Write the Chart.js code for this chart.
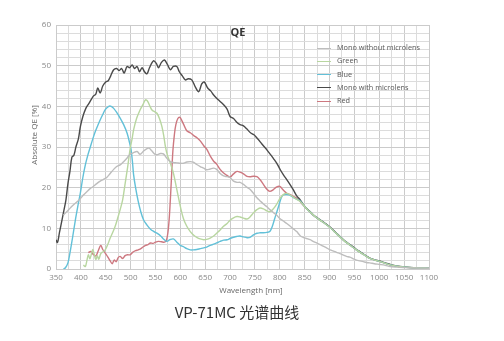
<!DOCTYPE html>
<html>
<head>
<meta charset="utf-8">
<script src="https://cdn.jsdelivr.net/npm/chart.js@4.4.1/dist/chart.umd.min.js"></script>
<style>
  body { margin: 0; background: #fff; }
  #wrap { position: relative; width: 504px; height: 341px; }
  #legend { position: absolute; left: 317px; top: 42px; font: 7.3px "Open Sans", sans-serif; color: #555; }
  #legend .row { height: 13.3px; line-height: 11px; white-space: nowrap; }
  #legend .swatch { display: inline-block; width: 14px; height: 0; border-top: 1.3px solid; vertical-align: middle; margin-right: 6px; }
  #caption { position: absolute; left: 0; width: 474px; top: 301px; text-align: center; font: 15px "Noto Sans CJK SC", sans-serif; color: #333; }
</style>
</head>
<body>
<div id="wrap">
  <canvas id="qeChart" width="504" height="341"></canvas>
  <div id="legend"></div>
  <div id="caption">VP-71MC 光谱曲线</div>
</div>
<script>
// Mono without microlens
const monoNoLensNm = [365,369,375,380,387,393,399,405,412,418,425,432,439,445,452,459,466,472,479,486,493,499,506,513,519,526,533,537,543,548,553,560,566,573,580,586,593,600,606,613,620,626,633,640,647,653,660,667,673,680,687,694,700,707,714,720,727,734,740,747,754,760,767,774,780,787,794,800,807,814,821,828,834,841,847,854,861,867,874,881,887,894,901,908,914,921,928,934,941,948,954,961,968,974,981,990,1002,1012,1022,1035,1050,1070,1100];
const monoNoLensQE = [13.3,13.8,14.5,15.2,16,16.6,17.3,18.2,19,19.7,20.3,21,21.6,22,22.5,23.5,24.5,25.2,25.6,26.4,27.3,28.2,28.6,28.9,28.2,29,29.6,29.7,29,28.3,28.1,28.4,28.3,27.2,26.4,26.2,26.1,26,26,26.3,26.4,26.3,25.7,25.2,24.8,24.4,24.6,24.8,24.5,23.5,22.9,22.7,22.5,21.6,21.3,21.3,20.8,20.1,19.6,18.6,17.5,16.8,16,15.3,14.6,13.9,13.2,12.4,11.8,11.2,10.5,9.8,9.2,8.2,7.8,7.5,7.2,6.8,6.4,6,5.6,5.2,4.7,4.4,4.1,3.8,3.4,3.1,2.9,2.5,2.2,2,1.8,1.6,1.5,1.3,1.1,0.9,0.6,0.45,0.35,0.25,0.2];

// Green
const greenNm = [405,409,412,415,418,421,424,427,430,433,436,440,444,449,454,459,464,469,474,479,484,489,494,499,503,506,512,519,525,530,534,539,543,548,553,558,563,567,570,574,580,586,593,600,606,613,620,627,633,640,647,653,660,667,673,680,687,694,700,707,714,720,727,734,740,747,754,760,767,774,780,787,794,800,807,814,821,828,834,841,847,854,861,874,887,901,914,928,941,954,968,981,1002,1022,1042,1070,1100];
const greenQE = [1,0.6,2,3.5,2.5,3.6,4.8,3.5,2.3,3.3,2.4,3.8,4.2,4.7,6,7.6,9,10.5,12.5,14.6,17,21,25,29.5,32,34.2,37,39.1,40.5,41.6,41.3,40,39.1,38.7,38.3,37,35,32.5,30.1,28,26,23.6,19.5,15.4,12.5,10.5,9.2,8.3,7.8,7.4,7.2,7.3,7.6,8.1,8.8,9.6,10.5,11.2,12,12.6,12.9,12.8,12.5,12.3,12.8,13.8,14.6,15,14.8,14.3,14.1,14.8,16,17.3,18.3,18.6,18.2,17.6,17.1,16.6,15.8,14.8,14,12.6,11.5,10.2,8.7,7.1,5.9,4.7,3.6,2.6,1.8,1.0,0.55,0.3,0.2];

// Blue
const blueNm = [365,369,374,378,383,389,394,399,404,409,414,419,424,429,434,439,444,449,456,461,466,472,479,486,493,498,501,504,506,510,515,520,526,533,540,547,553,560,566,573,579,586,593,600,606,613,620,626,633,640,647,653,660,667,673,680,687,694,700,707,713,720,727,734,740,747,754,760,767,774,780,785,790,794,799,803,807,814,821,827,834,841,847,854,861,874,887,901,914,928,941,954,968,981,1002,1022,1042,1070,1100];
const blueQE = [0,0.3,1.5,3.9,7.5,12.1,15.5,18.7,22.5,25.6,28,30,32,33.8,35.3,36.7,38,39.2,40,40,39.5,38.5,37.1,35.5,33.4,31,29.3,26,23.2,20,16.8,14.3,12.1,10.8,9.8,9.2,8.8,8.2,7.4,6.8,7.2,7.4,6.6,5.8,5.5,5,4.7,4.7,4.8,5,5.2,5.4,5.8,6.1,6.4,6.8,7.1,7.2,7.5,7.8,8,8.1,7.9,7.7,7.8,8.4,8.8,8.9,8.9,9,9.2,10.5,12.5,14,16,17.5,18.2,18.3,18.1,17.6,17.2,16.7,15.8,14.8,14,12.6,11.5,10.2,8.7,7.1,5.9,4.7,3.6,2.6,1.8,1.0,0.55,0.3,0.2];

// Mono with microlens
const monoLensNm = [350,353,357,362,366,370,374,378,382,386,390,395,399,404,410,415,420,425,430,434,439,444,450,455,460,466,472,477,482,487,493,498,503,508,513,518,523,528,533,538,546,552,556,562,568,574,580,586,593,598,604,610,616,623,630,637,643,648,655,661,667,673,680,687,694,700,707,714,720,727,734,741,748,754,761,767,774,781,787,794,801,807,814,821,827,834,841,847,854,861,867,874,881,887,894,901,908,914,921,928,934,941,948,954,961,968,974,981,990,1002,1012,1022,1032,1042,1055,1070,1085,1100];
const monoLensQE = [7.2,6.5,9,12,14.5,17,21,24,27.5,28,30,32,35,37.5,39.5,40.5,41.5,42.5,43,44.5,43.3,45,46,46.3,47.5,49,49.3,48.8,49.3,48.2,49.8,49.5,50.2,49.3,49.8,48.5,49.5,48.5,48,49.5,51.2,50.5,49.5,50.8,51.4,50.3,49,49.8,49.8,48.5,47.5,46.5,46.8,46.5,44.8,43.6,45.5,46,44.5,43.8,42.8,42,41.2,40.4,39.3,37.5,37,36,35.5,35.2,34.4,33.5,33,32.2,31.2,30.3,29.3,28.2,27.2,26,24.4,23.2,22,20.7,19.5,18,17,15.9,14.9,14.1,13.3,12.7,12.1,11.6,11,10.3,9.5,8.8,8,7.2,6.6,6,5.4,4.8,4.3,3.7,3.2,2.7,2.3,1.9,1.5,1.1,0.8,0.6,0.45,0.3,0.25,0.2];

// Red
const redNm = [415,420,425,430,435,440,444,449,454,459,463,467,471,475,479,484,489,494,499,504,510,515,519,525,530,535,540,545,550,556,562,568,572,576,579,582,585,588,591,595,599,603,608,613,620,627,634,640,647,653,660,667,673,680,687,694,700,707,714,720,727,734,740,747,754,760,767,774,780,787,794,800,807,814,821,828,834,841,847,854,861,874,887,901,914,928,941,954,968,981,1002,1022,1042,1070,1100];
const redQE = [4,4.3,3.6,3.2,4.5,5.8,4.8,3.9,3,2,1.3,2.2,1.8,2.8,3.1,2.6,3.3,3.5,3.5,4.1,4.5,4.7,4.9,5.4,5.8,6,6.4,6.3,6.6,6.8,6.7,6.6,7,10,15,22,29,33,35.5,37,37.3,36.5,35.2,34,33.5,32.8,32.2,31.5,30.3,29.5,27.8,26.5,25.8,24.5,23.6,23,22.6,23.4,24,23.8,23.4,22.8,22.7,22.8,22.7,22,20.8,19.6,19.1,19.5,20.2,20.3,19.4,18.6,18.3,17.8,17.4,16.6,15.7,14.8,14,12.6,11.5,10.2,8.7,7.1,5.9,4.7,3.6,2.6,1.8,1.0,0.55,0.3,0.2];

const seriesNames = ['Mono without microlens', 'Green', 'Blue', 'Mono with microlens', 'Red'];
const seriesColors = ['#bdbdbd', '#b8d6a0', '#62c0d8', '#4a4a4a', '#cd7880'];
const xTicks = [350, 1100];
const yTicks = [0, 60];

function toPoints(nm, qe) {
    return nm.map((x, i) => ({ x: x, y: qe[i] }));
}

const seriesData = [
    toPoints(monoNoLensNm, monoNoLensQE),
    toPoints(greenNm, greenQE),
    toPoints(blueNm, blueQE),
    toPoints(monoLensNm, monoLensQE),
    toPoints(redNm, redQE)
];

// Titles drawn at fixed spots like the original figure
const titlesPlugin = {
    id: 'titles',
    afterDraw(chart) {
        const ctx = chart.ctx;
        const area = chart.chartArea;
        ctx.save();
        ctx.textAlign = 'center';
        ctx.textBaseline = 'middle';
        ctx.fillStyle = '#333';
        ctx.font = 'bold 11px "Open Sans", sans-serif';
        ctx.fillText('QE', area.left + 182, area.top + 8);

        ctx.fillStyle = '#666';
        ctx.font = '8px "Open Sans", sans-serif';
        ctx.fillText('Wavelength [nm]', area.left + 195, area.bottom + 22);

        ctx.translate(35, area.top + 110);
        ctx.rotate(-Math.PI / 2);
        ctx.fillText('Absolute QE [%]', 0, 0);
        ctx.restore();
    }
};

const chart = new Chart(document.getElementById('qeChart').getContext('2d'), {
    type: 'line',
    data: {
        datasets: seriesData.map((pts, i) => ({
            label: seriesNames[i],
            data: pts,
            borderColor: seriesColors[i],
            borderWidth: 1.4,
            pointRadius: 0,
            tension: 0.35,
            fill: false
        }))
    },
    options: {
        responsive: false,
        animation: false,
        layout: { padding: { left: 0, top: 25, right: 75, bottom: 45 } },
        plugins: {
            legend: { display: false },
            tooltip: { enabled: false }
        },
        scales: {
            x: {
                type: 'linear',
                min: xTicks[0],
                max: xTicks[1],
                afterFit(scale) { scale.height = 27; },
                grid: {
                    drawTicks: false,
                    color: c => (c.tick && c.tick.value % 50 === 0) ? '#cbcbcb' : '#dcdcdc'
                },
                border: { color: '#cbcbcb' },
                ticks: {
                    stepSize: 25,
                    autoSkip: false,
                    maxRotation: 0,
                    padding: 4,
                    color: '#888',
                    font: { family: 'Open Sans', size: 8 },
                    callback: v => (v % 50 === 0 ? v : '')
                }
            },
            y: {
                min: yTicks[0],
                max: yTicks[1],
                afterFit(scale) { scale.width = 56; },
                grid: {
                    drawTicks: false,
                    color: c => (c.tick && c.tick.value % 10 === 0) ? '#cbcbcb' : '#dcdcdc'
                },
                border: { color: '#cbcbcb' },
                ticks: {
                    stepSize: 2,
                    autoSkip: false,
                    padding: 5,
                    color: '#888',
                    font: { family: 'Open Sans', size: 8 },
                    callback: v => (v % 10 === 0 ? v : '')
                }
            }
        }
    },
    plugins: [titlesPlugin]
});

// Legend inside the plot, top right
const legendDiv = document.getElementById('legend');
chart.data.datasets.forEach(ds => {
    const row = document.createElement('div');
    row.className = 'row';
    row.innerHTML = '<span class="swatch" style="border-color:' + ds.borderColor + '"></span>' + ds.label;
    legendDiv.appendChild(row);
});
</script>
</body>
</html>
